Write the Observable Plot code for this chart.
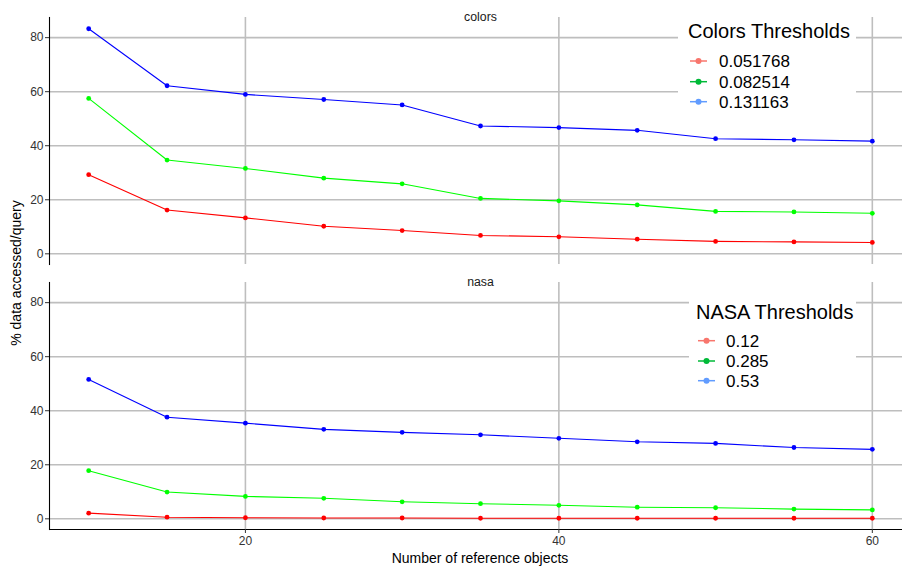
<!DOCTYPE html>
<html>
<head>
<meta charset="utf-8">
<script src="https://cdn.jsdelivr.net/npm/d3@7"></script>
<script src="https://cdn.jsdelivr.net/npm/@observablehq/plot@0.6"></script>
<style>
  html, body { margin: 0; padding: 0; background: #fff; }
  #wrap { position: relative; width: 902px; height: 568px; font-family: "Liberation Sans", Arial, sans-serif; }
  #wrap svg { position: absolute; left: 0; top: 0; }
  #overlay { pointer-events: none; }
</style>
</head>
<body>
<div id="wrap"></div>
<script>
// ---- data ----
const xs = [10, 15, 20, 25, 30, 35, 40, 45, 50, 55, 60];
const panels = ["colors", "nasa"];
const xTicks = [20, 40, 60];
const yTicks = [0, 20, 40, 60, 80];
const xTitle = "Number of reference objects";
const yTitle = "% data accessed/query";

const colorsThresholds = ["0.051768", "0.082514", "0.131163"];
const nasaThresholds = ["0.12", "0.285", "0.53"];
const legendTitles = ["Colors Thresholds", "NASA Thresholds"];

const colorsLow  = [29.3, 16.2, 13.3, 10.2, 8.6, 6.8, 6.3, 5.4, 4.6, 4.4, 4.2];
const colorsMid  = [57.5, 34.7, 31.6, 28.0, 25.9, 20.5, 19.6, 18.1, 15.7, 15.5, 15.0];
const colorsHigh = [83.3, 62.2, 59.0, 57.1, 55.1, 47.3, 46.7, 45.7, 42.6, 42.2, 41.7];
const nasaLow    = [2.1, 0.6, 0.4, 0.3, 0.3, 0.2, 0.2, 0.2, 0.2, 0.2, 0.2];
const nasaMid    = [17.8, 9.9, 8.3, 7.6, 6.3, 5.6, 5.0, 4.3, 4.1, 3.6, 3.3];
const nasaHigh   = [51.6, 37.6, 35.4, 33.1, 32.0, 31.1, 29.8, 28.5, 27.9, 26.4, 25.7];

const lineColors = ["#FF0000", "#00FF00", "#0000FF"];
const legendColors = ["#F8766D", "#00BA38", "#619CFF"];

// ---- build table ----
const seriesByPanel = {
  colors: [colorsLow, colorsMid, colorsHigh],
  nasa: [nasaLow, nasaMid, nasaHigh]
};
const rows = [];
for (const p of panels) {
  seriesByPanel[p].forEach((vals, level) => {
    vals.forEach((v, j) => rows.push({panel: p, level, x: xs[j], y: v}));
  });
}

// ggplot-like 5% expansion
const xMin = d3.min(xs), xMax = d3.max(xs), xSpan = xMax - xMin;
const xDomain = [xMin - 0.05 * xSpan, xMax + 0.05 * xSpan];
const yMin = d3.min(rows, d => d.y), yMax = d3.max(rows, d => d.y), ySpan = yMax - yMin;
const yDomain = [yMin - 0.05 * ySpan, yMax + 0.05 * ySpan];

const grid = {stroke: "#bebebe", strokeOpacity: 1, strokeWidth: 1.6};

const chart = Plot.plot({
  width: 902,
  height: 568,
  marginLeft: 49,
  marginRight: -9,
  marginTop: 17,
  marginBottom: 39,
  style: {fontFamily: "Liberation Sans, Arial, sans-serif", fontSize: "12px", background: "transparent"},
  x: {domain: xDomain},
  y: {domain: yDomain},
  fy: {domain: panels, paddingInner: 0.069, paddingOuter: 0, axis: null, label: null},
  marks: [
    Plot.gridY({ticks: yTicks, ...grid}),
    Plot.gridX({ticks: xTicks, ...grid}),
    Plot.frame({anchor: "left", stroke: "#000", strokeWidth: 1.1}),
    Plot.ruleY([{panel: panels[panels.length - 1], y: yDomain[0]}], {y: "y", fy: "panel", stroke: "#000", strokeWidth: 1.1}),
    Plot.axisY({ticks: yTicks, tickSize: 4, tickPadding: 2, fontSize: 12, fill: "#333", stroke: "#333", label: null}),
    Plot.axisX({ticks: xTicks, tickSize: 4, tickPadding: 3, fontSize: 12, fill: "#333", stroke: "#333", label: null}),
    Plot.line(rows, {x: "x", y: "y", z: "level", fy: "panel", stroke: d => lineColors[d.level], strokeWidth: 1.1}),
    Plot.dot(rows, {x: "x", y: "y", fy: "panel", fill: d => lineColors[d.level], r: 2.4}),
    Plot.text(panels, {fy: d => d, text: d => d, frameAnchor: "top", dy: -5, fontSize: 12.3, fill: "#1a1a1a"})
  ]
});
document.getElementById("wrap").appendChild(chart);

// ---- overlay: axis titles and legends ----
const ov = d3.select("#wrap").append("svg")
  .attr("id", "overlay").attr("width", 902).attr("height", 568)
  .style("font-family", "Liberation Sans, Arial, sans-serif");

ov.append("text").attr("x", 480).attr("y", 563).attr("text-anchor", "middle")
  .attr("font-size", 14).attr("fill", "#000").text(xTitle);
ov.append("text").attr("transform", "translate(21,273) rotate(-90)").attr("text-anchor", "middle")
  .attr("font-size", 14).attr("fill", "#000").text(yTitle);

const legends = [
  {title: legendTitles[0], labels: colorsThresholds, box: [678, 14, 178, 102], tx: 688, ty: 38, kx: 690, lx: 719, iy: [61, 81.7, 101.7]},
  {title: legendTitles[1], labels: nasaThresholds, box: [689, 288, 167, 104], tx: 696, ty: 319, kx: 698, lx: 726, iy: [340.7, 361, 380.7]}
];
for (const L of legends) {
  const g = ov.append("g");
  g.append("rect").attr("x", L.box[0]).attr("y", L.box[1]).attr("width", L.box[2]).attr("height", L.box[3]).attr("fill", "#fff");
  g.append("text").attr("x", L.tx).attr("y", L.ty).attr("font-size", 20).attr("fill", "#000").text(L.title);
  L.labels.forEach((lab, i) => {
    const y = L.iy[i];
    g.append("line").attr("x1", L.kx).attr("x2", L.kx + 17).attr("y1", y).attr("y2", y)
      .attr("stroke", legendColors[i]).attr("stroke-width", 1.5);
    g.append("circle").attr("cx", L.kx + 8.5).attr("cy", y).attr("r", 3).attr("fill", legendColors[i]);
    g.append("text").attr("x", L.lx).attr("y", y + 6).attr("font-size", 17).attr("fill", "#000").text(lab);
  });
}
</script>
</body>
</html>
